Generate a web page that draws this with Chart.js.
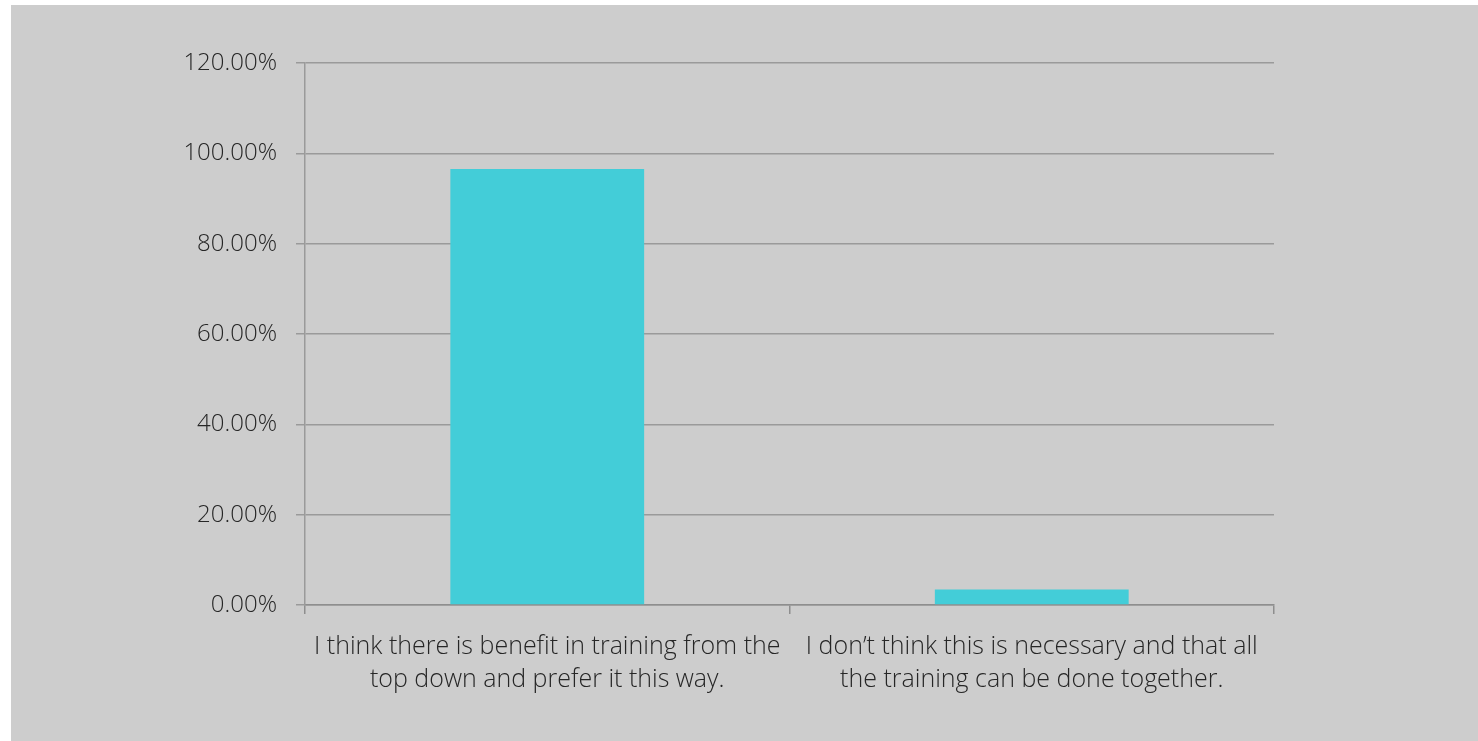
<!DOCTYPE html>
<html>
<head>
<meta charset="utf-8">
<script src="https://cdn.jsdelivr.net/npm/chart.js@4.4.1/dist/chart.umd.min.js"></script>
<style>
  html, body { margin: 0; padding: 0; background: #ffffff; }
  #wrap {
    position: absolute; left: 11px; top: 5px;
    width: 1467px; height: 736px;
    background: #cdcdcd;
  }
</style>
</head>
<body>
<div id="wrap"><canvas id="mycanvas"></canvas></div>
<script>
// survey answers and share of respondents (%)
var answers = [
	["I think there is benefit in training from the", "top down and prefer it this way."],
	["I don\u2019t think this is necessary and that all", "the training can be done together."]
];
var share = [96.55, 3.45];
var yMax = 120;
var yStep = 20;

var yFont = { family: "'Open Sans', sans-serif", size: 24, weight: '300' };
var xFont = { family: "'Open Sans', sans-serif", size: 25, weight: '300', lineHeight: 1.32 };

var ctx = document.getElementById("mycanvas");
var barGraph = new Chart(ctx, {
	type: 'bar',
	data: {
		labels: answers,
		datasets: [
			{
				label: 'Share',
				backgroundColor: '#43cdd8',
				borderWidth: 0,
				data: share,
				categoryPercentage: 1,
				barPercentage: 0.4
			}
		]
	},
	options: {
		responsive: true,
		maintainAspectRatio: false,
		animation: false,
		layout: { padding: { top: 58, right: 204, left: 0, bottom: 0 } },
		plugins: {
			legend: { display: false },
			tooltip: { enabled: false }
		},
		scales: {
			x: {
				border: { display: true, color: '#8e8e8e', width: 1.5 },
				grid: { display: true, drawOnChartArea: false, tickLength: 9, color: '#8e8e8e', lineWidth: 1.5 },
				ticks: { color: '#262626', font: xFont, padding: 16, maxRotation: 0, autoSkip: false },
				afterFit: function(scale) { scale.height = 136; }
			},
			y: {
				min: 0,
				max: yMax,
				border: { display: true, color: '#9a9a9a', width: 1.5 },
				grid: { color: '#9a9a9a', lineWidth: 1.5, tickLength: 9 },
				ticks: {
					stepSize: yStep,
					color: '#262626',
					font: yFont,
					padding: 19,
					callback: function(v) { return v.toFixed(2) + '%'; }
				},
				afterFit: function(scale) { scale.width = 294; }
			}
		}
	}
});
</script>
</body>
</html>
